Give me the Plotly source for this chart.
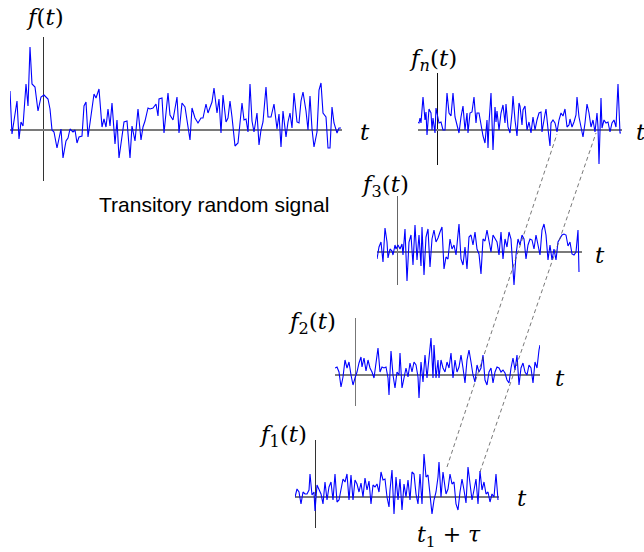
import plotly.graph_objects as go

# ---------------- data ----------------
# transitory random signal f(t)
t_f = [-33,-31,-26,-24,-22,-20,-17,-15,-13,-11,-8,-5,-2,1,5,7,9,11,14,16,18,20,23,25,27,30,32,34,36,39,
       41,43,45,47,49,51,53,56,59,61,63,65,67,69,72,74,76,79,81,84,87,89,92,95,98,100,102,105,107,110,
       113,115,116,119,121,125,127,130,134,
       136,139,142,145,147,149,152,155,158,160,163,165,169,171,174,176,178,180,183,185,187,189,192,195,196,199,
       201,203,205,207,209,211,214,216,218,220,223,225,228,231,234,236,238,240,243,245,247,249,251,254,
       256,258,260,263,265,267,269,271,274,276,278,280,283,285,287,289,291,294,296,298]
v_f = [39,-4,29,-9,8,4,46,24,83,46,43,19,33,35,31,21,0,-2,-18,-7,1,-28,-11,-8,1,-2,0,-13,-7,-6,
       24,28,-7,7,21,36,32,41,3,11,3,21,4,27,-14,10,-28,-7,8,9,-28,4,-11,21,-10,3,9,22,21,22,
       26,14,31,32,-3,37,15,10,33,
       -3,27,23,0,-10,22,12,7,12,12,26,17,28,42,17,31,-3,35,8,12,29,13,-16,-13,-3,27,10,11,-2,46,
       9,-2,17,-15,0,8,43,13,13,26,1,16,-17,19,-7,8,17,2,37,8,7,29,38,19,0,34,1,-17,-2,40,
       47,17,13,-18,-18,23,7,-3,2,2]

# ensemble member f_n(t)
t_n = [-20,-18,-17,-16,-14,-12,-11,-10,-8,-6,-5,-4,-2,-1,0,2,4,6,8,10,12,14,16,18,20,22,24,26,28,30,
       31,33,35,37,39,40,42,44,46,48,50,51,52,54,56,58,59,60,62,64,66,68,69,71,73,75,76,78,80,82,
       83,85,86,88,90,92,94,96,98,100,102,104,105,108,109,111,113,114,116,118,120,122,124,126,128,130,
       132,133,135,137,139,140,142,144,146,148,150,152,154,156,158,160,161,162,164,165,167,169,171,173,
       175,177,179,181,183,184]
v_n = [8,7,12,7,33,10,18,-5,21,17,0,12,-3,22,17,7,8,0,0,37,17,14,37,13,5,-3,13,24,0,17,
       -3,17,18,33,7,17,17,3,-6,-13,10,-18,7,37,-20,23,8,19,0,17,25,7,26,3,-3,17,34,10,-6,27,
       24,5,20,24,0,8,-3,13,0,10,17,18,-2,16,21,1,-16,7,10,7,-2,10,17,14,21,3,5,11,3,8,
       15,33,13,3,-7,7,26,17,3,10,-2,17,3,-34,32,2,10,7,8,-2,7,10,3,46,-3,-3]

# ensemble member f_3(t)
t_3 = [-20,-18,-16,-14,-12,-10,-9,-7,-5,-4,-2,-1,1,3,5,6,8,10,12,14,16,18,20,22,24,25,27,29,31,33,
       35,37,39,41,43,45,47,49,51,53,55,57,59,60,62,64,66,68,70,72,74,76,78,80,82,84,86,88,90,92,
       94,96,98,100,102,104,106,108,110,112,114,116,117,119,121,123,125,127,129,131,133,135,137,139,141,143,
       145,147,149,151,153,155,157,159,161,163,165,167,169,171,173,175,177,179,181,182]
v_3 = [-7,5,10,-10,24,10,-6,3,1,-3,7,3,7,3,8,-3,23,-29,10,17,-13,27,-8,17,-14,25,-23,15,23,-15,
       13,22,10,14,20,25,-17,-5,-7,13,3,7,-3,8,28,-7,-13,5,-17,15,17,7,20,3,-2,-22,13,11,22,11,
       0,17,13,10,-3,20,-7,13,5,20,13,-17,-33,-3,13,7,17,13,-7,7,13,12,3,17,7,-3,
       22,28,17,-8,7,-8,3,-8,10,13,17,18,17,6,10,-2,-3,0,22,-20]

# ensemble member f_2(t)
t_2 = [-20,-18,-16,-14,-12,-10,-8,-6,-4,-2,0,2,4,6,7,9,11,13,15,17,19,21,23,25,27,29,31,33,34,36,
       38,40,42,44,45,47,49,51,53,55,57,59,61,63,64,66,68,70,72,74,76,78,79,81,83,84,86,88,90,92,
       94,96,98,100,102,104,106,108,110,112,114,116,118,120,122,124,126,128,130,132,134,136,138,140,142,144,
       146,148,150,152,154,156,158,160,162,164,166,168,170,172,174,176,178,180,182,184,185]
v_2 = [7,8,3,-12,-2,15,7,13,0,-10,-3,3,12,18,8,17,4,15,7,3,-3,10,27,3,8,7,8,-3,-20,24,
       0,-13,3,0,22,-13,-3,7,-2,12,3,13,10,-2,-23,13,-7,20,-3,17,37,-3,30,-3,15,-3,15,7,3,13,
       7,22,-3,15,3,8,20,7,-8,15,25,13,0,-7,10,3,7,20,-5,-10,3,7,-8,3,8,7,
       3,5,2,-5,-8,7,17,5,20,-10,7,12,3,0,10,7,-8,13,7,25,30]

# ensemble member f_1(t)
t_1 = [-20,-18,-16,-14,-12,-10,-8,-6,-5,-3,-1,0,2,4,6,8,10,12,14,16,18,20,22,24,26,28,30,32,34,36,
       38,40,42,44,46,48,50,52,54,56,58,60,62,64,66,68,70,72,74,75,77,79,81,83,85,87,89,91,93,95,
       97,99,101,103,105,107,109,111,113,115,117,119,121,123,124,126,128,130,131,133,135,137,139,141,143,145,
       147,149,151,153,155,157,159,161,163,165,167,169,171,173,175,177,179,181,183]
v_1 = [0,8,5,-7,5,3,3,7,23,2,5,-14,12,7,3,-7,15,-3,10,15,-3,23,-5,-3,7,18,15,23,-3,22,
       -3,17,13,5,14,0,19,7,16,-7,12,10,13,5,25,17,18,0,-10,7,27,-17,20,-3,18,-13,13,0,17,-3,
       25,23,3,-7,23,-7,43,20,22,0,-17,-3,5,20,35,0,25,10,3,8,23,13,15,-7,-13,5,
       18,7,-6,30,10,-3,7,18,-7,26,7,15,3,5,-5,3,0,23,-3]

# dashed links (time, value) on f_1 -> f_n
link_t_low = [132, 165]
link_v_low = [30, 25]
link_t_high = [120, 159]
link_v_high = [-4, -3]

# ---------------- layout geometry (pixels of the 644x552 page) ----------------
W, H = 644, 552
# x0,x1: ends of time axis; xa: position of t=0; ytop,ybot: ends of vertical axis; base: zero level
panels = [
    dict(t=t_f, v=v_f, x0=10, x1=342, xa=43, ytop=37, ybot=181, base=130, vcol="#333333"),
    dict(t=t_n, v=v_n, x0=418, x1=622, xa=437, ytop=73, ybot=165, base=130, vcol="#111111"),
    dict(t=t_3, v=v_3, x0=377, x1=582, xa=397, ytop=196, ybot=285, base=252, vcol="#666666"),
    dict(t=t_2, v=v_2, x0=335, x1=540, xa=355, ytop=318, ybot=406, base=375, vcol="#777777"),
    dict(t=t_1, v=v_1, x0=295, x1=499, xa=315, ytop=440, ybot=528, base=497, vcol="#333333"),
]

fig = go.Figure()
layout = dict(width=W, height=H, margin=dict(l=0, r=0, t=0, b=0),
              paper_bgcolor="white", plot_bgcolor="rgba(0,0,0,0)", showlegend=False)

def px(x):
    return x / W

def py(y):
    return 1 - y / H

for i, p in enumerate(panels):
    k = "" if i == 0 else str(i + 1)
    fig.add_trace(go.Scatter(x=p["t"], y=p["v"], mode="lines",
                             line=dict(color="#0000ff", width=1.1),
                             xaxis="x" + k, yaxis="y" + k, hoverinfo="skip"))
    layout["xaxis" + k] = dict(domain=[px(p["x0"]), px(p["x1"])],
                               range=[p["x0"] - p["xa"], p["x1"] - p["xa"]],
                               anchor="y" + k, showgrid=False, showticklabels=False, ticks="",
                               showline=False, zeroline=True, zerolinecolor=p["vcol"],
                               zerolinewidth=1.4, fixedrange=True)
    layout["yaxis" + k] = dict(domain=[py(p["ybot"]), py(p["ytop"])],
                               range=[p["base"] - p["ybot"], p["base"] - p["ytop"]],
                               anchor="x" + k, showgrid=False, showticklabels=False, ticks="",
                               showline=False, zeroline=True, zerolinecolor="#7a7a7a",
                               zerolinewidth=1.8, fixedrange=True)

fig.update_layout(**layout)

def to_paper(p, t, v):
    x = p["xa"] + t
    y = p["base"] - v
    return px(x), py(y)

lo, hi = panels[4], panels[1]
for i in range(len(link_t_low)):
    x0, y0 = to_paper(lo, link_t_low[i], link_v_low[i])
    x1, y1 = to_paper(hi, link_t_high[i], link_v_high[i])
    fig.add_shape(type="line", xref="paper", yref="paper", x0=x0, y0=y0, x1=x1, y1=y1,
                  line=dict(color="#555555", width=0.8, dash="4px,3px"))

MATH = dict(family="DejaVu Serif", size=23, color="black")
labels = [
    ("<i>f</i>(<i>t</i>)", 45, 17),
    ("<i>f</i><sub><i>n</i></sub>(<i>t</i>)", 433, 60),
    ("<i>f</i><sub>3</sub>(<i>t</i>)", 385, 186),
    ("<i>f</i><sub>2</sub>(<i>t</i>)", 312, 323),
    ("<i>f</i><sub>1</sub>(<i>t</i>)", 283, 436),
    ("<i>t</i>", 365, 132),
    ("<i>t</i>", 641, 132),
    ("<i>t</i>", 600, 255),
    ("<i>t</i>", 560, 378),
    ("<i>t</i>", 522, 498),
]
for txt, x, y in labels:
    fig.add_annotation(text=txt, x=px(x), y=py(y), xref="paper", yref="paper",
                       showarrow=False, xanchor="center", yanchor="middle", font=MATH)

fig.add_annotation(text="<i>t</i><sub>1</sub> + <i>τ</i>", x=px(449), y=py(536), xref="paper",
                   yref="paper", showarrow=False, xanchor="center", yanchor="middle",
                   font=dict(family="DejaVu Serif", size=22, color="black"))

fig.add_annotation(text="Transitory random signal", x=px(214), y=py(204), xref="paper", yref="paper",
                   showarrow=False, xanchor="center", yanchor="middle",
                   font=dict(family="Liberation Sans, Arial", size=21, color="black"))

fig.write_html("out.html", config={"displayModeBar": False},
               post_script="document.body.style.margin='0';document.body.style.overflow='hidden';")
